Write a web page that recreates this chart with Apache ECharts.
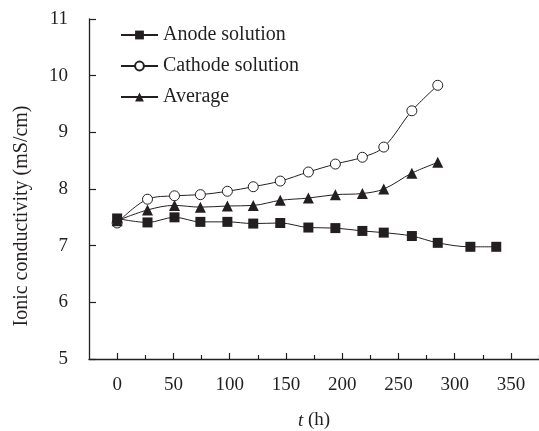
<!DOCTYPE html>
<html>
<head>
<meta charset="utf-8">
<script src="https://cdn.jsdelivr.net/npm/echarts@6/dist/echarts.min.js"></script>
<style>
  html, body { margin: 0; padding: 0; background: #fff; }
  #chart { width: 539px; height: 431px; }
</style>
</head>
<body>
<div id="chart"></div>
<script>
// 数据
var hours = [0, 27, 51, 74, 98, 121, 145, 170, 194, 218, 237, 262, 285, 314, 337];
var anode = [7.48, 7.41, 7.50, 7.42, 7.42, 7.39, 7.40, 7.32, 7.31, 7.26, 7.23, 7.17, 7.05, 6.98, 6.98];
var cathode = [7.40, 7.82, 7.88, 7.90, 7.96, 8.04, 8.14, 8.30, 8.44, 8.56, 8.74, 9.38, 9.83];
var average = [7.44, 7.63, 7.71, 7.68, 7.70, 7.71, 7.80, 7.84, 7.90, 7.92, 8.00, 8.28, 8.47];
var xMajorTicks = [0, 50, 100, 150, 200, 250, 300, 350];
var xMinorTicks = [25, 75, 125, 175, 225, 275, 325, 375];

function pairs(xs, ys) {
    return ys.map(function (v, i) { return [xs[i], v]; });
}

var ink = '#231f20';
var font = 'Liberation Serif';

var myChart = echarts.init(document.getElementById('chart'));
var option = {
    animation: false,
    textStyle: { fontFamily: font, color: ink },
    grid: { left: 89, right: 0, top: 19, bottom: 72, outerBoundsMode: 'none' },
    legend: {
        orient: 'vertical',
        left: 120,
        top: 25,
        padding: 0,
        itemWidth: 37,
        itemHeight: 11,
        itemGap: 11,
        data: ['Anode solution', 'Cathode solution', 'Average'],
        textStyle: { fontFamily: font, fontSize: 20, color: ink, lineHeight: 20 }
    },
    xAxis: [{
        type: 'value',
        min: -25,
        max: 375,
        interval: 25,
        name: '{i|t} (h)',
        nameLocation: 'middle',
        nameGap: 52,
        nameTextStyle: {
            fontFamily: font, fontSize: 19, color: ink,
            rich: { i: { fontFamily: font, fontSize: 19, fontStyle: 'italic', color: ink } }
        },
        splitLine: { show: false },
        axisLine: { onZero: false, lineStyle: { color: ink, width: 1.3 } },
        axisTick: { inside: true, length: 6, customValues: xMajorTicks, lineStyle: { color: ink, width: 1.2 } },
        axisLabel: { margin: 17, fontSize: 19, color: ink, fontFamily: font, customValues: xMajorTicks }
    }, {
        type: 'value',
        min: -25,
        max: 375,
        interval: 25,
        position: 'bottom',
        splitLine: { show: false },
        axisLine: { show: false, onZero: false },
        axisTick: { inside: true, length: 4, customValues: xMinorTicks, lineStyle: { color: ink, width: 1.2 } },
        axisLabel: { show: false }
    }],
    yAxis: {
        type: 'value',
        min: 5,
        max: 11,
        interval: 1,
        name: 'Ionic conductivity (mS/cm)',
        nameLocation: 'middle',
        nameGap: 57,
        nameTextStyle: { fontFamily: font, fontSize: 20, color: ink, padding: [0, 54, 0, 0] },
        splitLine: { show: false },
        axisLine: { show: true, onZero: false, lineStyle: { color: ink, width: 1.3 } },
        axisTick: { show: true, inside: true, length: 7, lineStyle: { color: ink, width: 1.2 } },
        axisLabel: { margin: 21, fontSize: 19, color: ink, fontFamily: font }
    },
    series: [
        {
            name: 'Cathode solution',
            type: 'line',
            smooth: 0.35,
            data: pairs(hours, cathode),
            symbol: 'circle',
            symbolSize: 10,
            lineStyle: { color: ink, width: 1 },
            itemStyle: { color: '#fff', borderColor: ink, borderWidth: 1 }
        },
        {
            name: 'Average',
            type: 'line',
            smooth: 0.35,
            data: pairs(hours, average),
            symbol: 'triangle',
            symbolSize: 11,
            lineStyle: { color: ink, width: 1 },
            itemStyle: { color: ink }
        },
        {
            name: 'Anode solution',
            type: 'line',
            smooth: 0.35,
            data: pairs(hours, anode),
            symbol: 'rect',
            symbolSize: 10,
            lineStyle: { color: ink, width: 1 },
            itemStyle: { color: ink }
        }
    ]
};
myChart.setOption(option);
</script>
</body>
</html>
